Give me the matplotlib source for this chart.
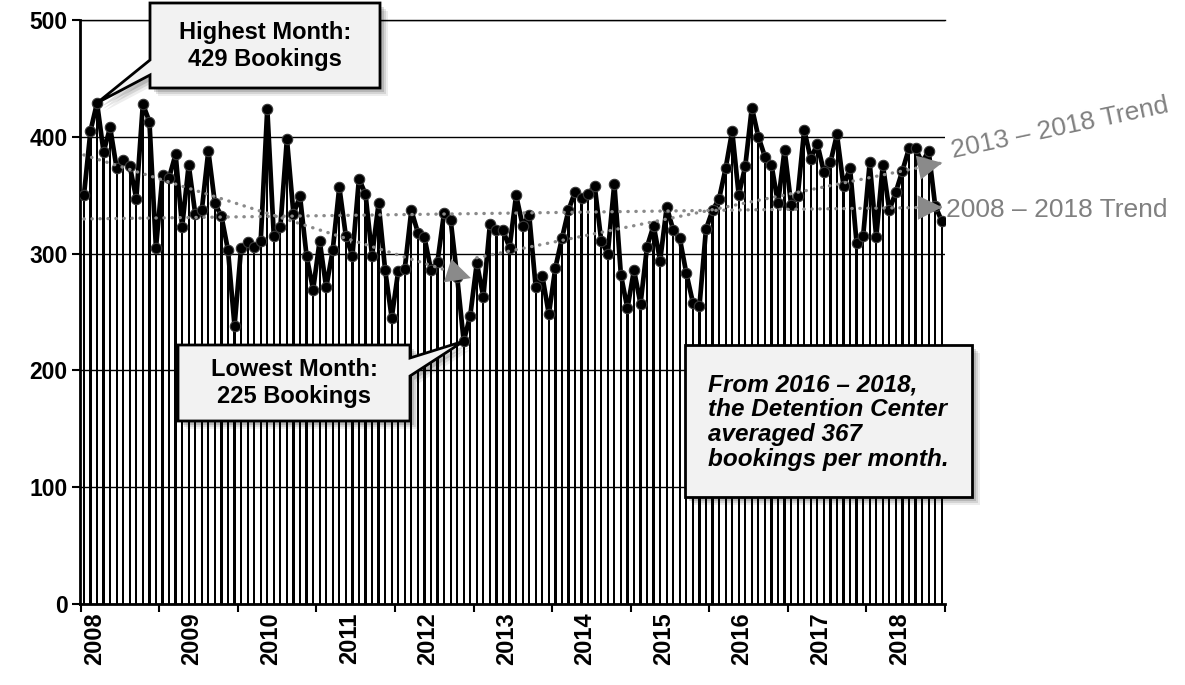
import matplotlib
matplotlib.use('Agg')
import matplotlib.pyplot as plt
import numpy as np
from matplotlib.patches import Polygon

plt.rcParams['font.family'] = ['Liberation Sans', 'DejaVu Sans']

# monthly bookings, Jan 2008 - Dec 2018
years = ['2008', '2009', '2010', '2011', '2012', '2013',
         '2014', '2015', '2016', '2017', '2018']
bookings = [
    350, 405, 429, 387, 408, 373, 380, 375, 347, 428, 413, 305,   # 2008
    367, 365, 385, 323, 376, 334, 337, 388, 343, 332, 303, 238,   # 2009
    305, 310, 306, 311, 424, 315, 323, 398, 334, 349, 298, 269,   # 2010
    311, 271, 303, 357, 315, 298, 364, 351, 298, 343, 286, 245,   # 2011
    285, 287, 337, 318, 314, 286, 293, 335, 329, 280, 225, 247,   # 2012
    292, 263, 325, 320, 320, 305, 350, 324, 333, 271, 281, 248,   # 2013
    288, 313, 337, 353, 348, 351, 358, 311, 300, 360, 282, 253,   # 2014
    286, 257, 306, 324, 294, 340, 320, 313, 283, 258, 255, 321,   # 2015
    337, 347, 373, 405, 350, 375, 425, 400, 383, 376, 343, 389,   # 2016
    342, 349, 406, 381, 394, 370, 378, 402, 358, 373, 309, 315,   # 2017
    378, 314, 376, 337, 353, 371, 390, 390, 378, 388, 341, 328,   # 2018
]
# trend segments (start index, end index)
trends = [(0, 60), (60, 132), (0, 132)]

W, H = 1185, 685
fig = plt.figure(figsize=(W / 100, H / 100), dpi=100)
ax = fig.add_axes([80 / W, 1 - 604 / H, 865 / W, 584 / H])

x = np.arange(len(bookings))
vals = np.array(bookings)

ax.bar(x, vals, width=0.34, color='black', zorder=2)
ax.plot(x, vals, color='black', lw=3.4, marker='o', ms=7.5,
        mfc='black', mec='#3a3a3a', mew=0.8, zorder=4)

gray = '#8a8a8a'
for i0, i1 in trends:
    xs = x[i0:i1]
    coef = np.polyfit(xs, vals[i0:i1], 1)
    ys = np.polyval(coef, xs)
    ax.plot(xs, ys, color=gray, lw=2.4, ls=(0, (0.1, 2.3)),
            dash_capstyle='round', zorder=5)
    ax.annotate('', xy=(xs[-1] + 0.5, ys[-1] + 0.5 * coef[0]),
                xytext=(xs[-1] - 2, ys[-1] - 2 * coef[0]),
                arrowprops=dict(arrowstyle='-|>,head_length=1.1,head_width=0.55',
                                color=gray, lw=0, mutation_scale=16),
                zorder=6)

ax.set_xlim(-0.6, 131.5)
ax.set_ylim(0, 500)
ax.set_yticks(range(0, 501, 100))
ax.set_yticklabels([str(v) for v in range(0, 501, 100)],
                   fontsize=16.5, fontweight='bold')
ax.yaxis.grid(True, color='black', lw=1.0)
ax.set_axisbelow(True)
ax.tick_params(axis='y', length=6, width=1.5, pad=3)

ax.set_xticks(np.arange(-0.5, 132, 12))
ax.set_xticklabels([])
ax.tick_params(axis='x', which='major', length=6, width=1.5)
label_pos = [1.7] + [12 * k + 4.5 for k in range(1, len(years))]
ax.set_xticks(label_pos, minor=True)
ax.set_xticklabels(years, minor=True, rotation=90, fontsize=17, fontweight='bold')
ax.tick_params(axis='x', which='minor', length=0, pad=6)

ax.spines['right'].set_visible(False)
ax.spines['top'].set_linewidth(1.0)
ax.spines['left'].set_linewidth(2)
ax.spines['bottom'].set_linewidth(2)

# trend labels
fig.text(1060 / W, 1 - 128 / H, '2013 \u2013 2018 Trend', color='#808080',
         fontsize=19, rotation=12, ha='center', va='center')
fig.text(946 / W, 1 - 210 / H, '2008 \u2013 2018 Trend', color='#808080',
         fontsize=19, ha='left', va='center')


def fp(px, py):
    return (px / W, 1 - py / H)


def data_tip(idx):
    disp = ax.transData.transform((idx, vals[idx]))
    return fig.transFigure.inverted().transform(disp)


def callout(pts):
    for off, a in [(8, 0.07), (6, 0.10), (4, 0.14)]:
        sh = [(px + off / W, py - off / H) for px, py in pts]
        fig.patches.append(Polygon(sh, closed=True, transform=fig.transFigure,
                                   facecolor='black', edgecolor='none',
                                   alpha=a, zorder=8))
    fig.patches.append(Polygon(pts, closed=True, transform=fig.transFigure,
                               facecolor='#f2f2f2', edgecolor='black',
                               lw=2, zorder=9))


i_max = int(np.argmax(vals))
i_min = int(np.argmin(vals))

callout([fp(150, 3), fp(380, 3), fp(380, 88), fp(150, 88), fp(150, 75),
         tuple(data_tip(i_max)), fp(150, 60)])
fig.text(265 / W, 1 - 46 / H, 'Highest Month:\n%d Bookings' % vals[i_max],
         ha='center', va='center', fontsize=17, fontweight='bold',
         linespacing=1.24, zorder=10)

callout([fp(178, 345), fp(410, 345), fp(410, 358), tuple(data_tip(i_min)),
         fp(410, 376), fp(410, 421), fp(178, 421)])
fig.text(294 / W, 1 - 383 / H, 'Lowest Month:\n%d Bookings' % vals[i_min],
         ha='center', va='center', fontsize=17, fontweight='bold',
         linespacing=1.2, zorder=10)

avg = int(round(vals[96:].mean()))
callout([fp(685, 345), fp(972, 345), fp(972, 497), fp(685, 497)])
fig.text(708 / W, 1 - 422 / H,
         'From 2016 \u2013 2018,\nthe Detention Center\naveraged %d\nbookings per month.' % avg,
         ha='left', va='center', fontsize=17.5, fontweight='bold', style='italic',
         linespacing=1.1, zorder=10)

fig.savefig('out.png', dpi=100)
